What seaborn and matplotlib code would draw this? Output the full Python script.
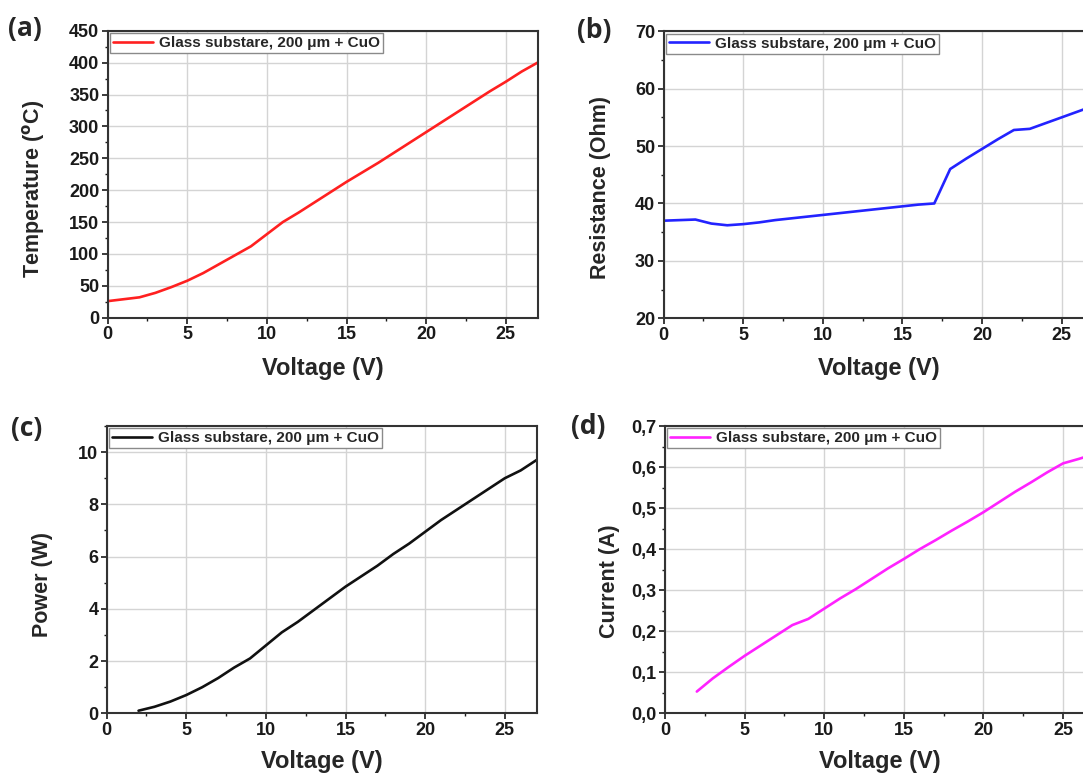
# Four-panel heater characterisation: temperature, resistance, power, current vs voltage
import numpy as np
import pandas as pd
import matplotlib
matplotlib.use('Agg')
import matplotlib.pyplot as plt
import seaborn as sns
from matplotlib.ticker import MultipleLocator, FixedLocator, FixedFormatter

# ---- data ----
voltage_full = list(range(0, 28))
voltage_from2 = list(range(2, 28))

temperature = [26, 29, 32, 39, 48, 58, 70, 84, 98, 112, 131, 150, 165, 181,
               197, 213, 228, 243, 259, 275, 291, 307, 323, 339, 355, 370, 386, 400]
resistance = [37.0, 37.1, 37.2, 36.5, 36.2, 36.4, 36.7, 37.1, 37.4, 37.7, 38.0,
              38.3, 38.6, 38.9, 39.2, 39.5, 39.8, 40.0, 46.0, 47.8, 49.5, 51.2,
              52.8, 53.0, 54.0, 55.0, 56.0, 57.0]
power = [0.1, 0.25, 0.45, 0.7, 1.0, 1.35, 1.75, 2.1, 2.6, 3.1, 3.5, 3.95, 4.4,
         4.85, 5.25, 5.65, 6.1, 6.5, 6.95, 7.4, 7.8, 8.2, 8.6, 9.0, 9.3, 9.7]
current = [0.053, 0.085, 0.113, 0.14, 0.165, 0.19, 0.215, 0.23, 0.255, 0.28,
           0.303, 0.328, 0.353, 0.376, 0.40, 0.422, 0.445, 0.467, 0.49, 0.515,
           0.54, 0.563, 0.587, 0.609, 0.62, 0.632]

legend_label = 'Glass substare, 200 \u03bcm + CuO'
current_ticks = [0.0, 0.1, 0.2, 0.3, 0.4, 0.5, 0.6, 0.7]
current_ticklabels = ['0,0', '0,1', '0,2', '0,3', '0,4', '0,5', '0,6', '0,7']

sns.set_style('ticks')
plt.rcParams['font.family'] = ['Liberation Sans', 'DejaVu Sans']
plt.rcParams['font.weight'] = 'bold'
plt.rcParams['axes.labelweight'] = 'bold'


def painel(fig, pos, x, y, cor, ylabel, ylim, ymaj, ymin, letra, letra_pos,
           ylabel_xy, xlabel_pad=10):
    """Draws one panel in the common style."""
    ax = fig.add_axes(pos)
    df = pd.DataFrame({'V': x, 'Y': y})
    sns.lineplot(data=df, x='V', y='Y', ax=ax, color=cor, lw=1.9,
                 label=legend_label)
    ax.set_xlim(0, 27)
    ax.set_ylim(*ylim)
    ax.xaxis.set_major_locator(MultipleLocator(5))
    ax.xaxis.set_minor_locator(MultipleLocator(2.5))
    ax.yaxis.set_major_locator(MultipleLocator(ymaj))
    ax.yaxis.set_minor_locator(MultipleLocator(ymin))
    ax.set_xlabel('Voltage (V)', fontsize=17, labelpad=xlabel_pad)
    ax.set_ylabel(ylabel, fontsize=15.5)
    ax.yaxis.set_label_coords(*ylabel_xy)
    ax.grid(True, which='major', color='#d4d4d4', lw=1)
    ax.set_axisbelow(True)
    for s in ax.spines.values():
        s.set_visible(True)
        s.set_color('#333333')
        s.set_linewidth(1.5)
    ax.tick_params(which='major', direction='out', length=4, width=1.2,
                   labelsize=13, pad=2, colors='#1a1a1a')
    ax.tick_params(which='minor', direction='out', length=2.5, width=1.0,
                   colors='#1a1a1a')
    ax.legend(loc='upper left', frameon=True, fancybox=False,
              edgecolor='#8a8a8a', framealpha=1, borderaxespad=0.15,
              borderpad=0.2, handlelength=2.6, handletextpad=0.4,
              prop={'weight': 'bold', 'size': 11})
    fig.text(letra_pos[0], letra_pos[1], letra, fontsize=19, fontweight='bold',
             family=['Open Sans', 'DejaVu Sans'], va='center', ha='left')
    return ax


fig = plt.figure(figsize=(10.83, 7.74), dpi=100)

painel(fig, [0.0994, 0.5895, 0.397, 0.3708], voltage_full, temperature, '#ff2020',
       'Temperature ($^{\\mathbf{o}}$C)', (0, 450), 50, 25, '(a)', (0.007, 0.963),
       (-0.142, 0.45))
painel(fig, [0.6127, 0.5888, 0.397, 0.3708], voltage_full, resistance, '#2323ff',
       'Resistance (Ohm)', (20, 70), 10, 5, '(b)', (0.533, 0.961),
       (-0.122, 0.455))
painel(fig, [0.0985, 0.0784, 0.397, 0.3712], voltage_from2, power, '#111111',
       'Power (W)', (0, 11), 2, 1, '(c)', (0.010, 0.447),
       (-0.124, 0.45), xlabel_pad=8)
ax_d = painel(fig, [0.614, 0.0784, 0.397, 0.3712], voltage_from2, current, '#ff22ff',
              'Current (A)', (0, 0.7), 0.1, 0.05, '(d)', (0.527, 0.449),
              (-0.104, 0.46), xlabel_pad=8)
ax_d.yaxis.set_major_locator(FixedLocator(current_ticks))
ax_d.yaxis.set_major_formatter(FixedFormatter(current_ticklabels))

fig.savefig('out.png', dpi=100)
